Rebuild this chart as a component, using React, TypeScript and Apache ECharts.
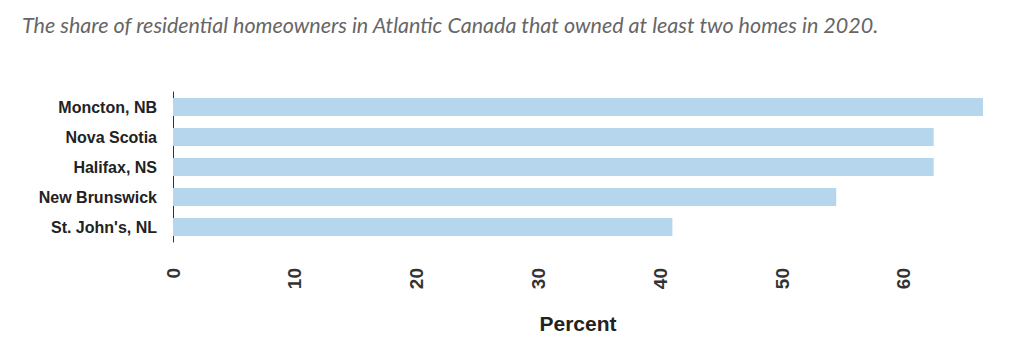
import React, { useEffect, useRef } from "react";
import * as echarts from "echarts";

const titleText =
  "The share of residential homeowners in Atlantic Canada that owned at least two homes in 2020.";
const categories = ["Moncton, NB", "Nova Scotia", "Halifax, NS", "New Brunswick", "St. John's, NL"];
const values = [66.5, 62.45, 62.45, 54.45, 41.0];
const axisName = "Percent";

export default function App() {
  const ref = useRef<HTMLDivElement>(null);
  useEffect(() => {
    if (!ref.current) return;
    const chart = echarts.init(ref.current, null, { renderer: "svg" });
    chart.setOption({
      animation: false,
      backgroundColor: "#ffffff",
      title: {
        text: titleText,
        left: 17,
        top: 9,
        textStyle: {
          fontFamily: "Lato",
          fontStyle: "italic",
          fontWeight: "normal",
          fontSize: 21.5,
          color: "#666666",
        },
      },
      grid: { left: 173, right: 41, top: 92, height: 150 },
      xAxis: {
        type: "value",
        min: 0,
        max: "dataMax",
        interval: 10,
        axisLine: { show: false },
        axisTick: { show: false },
        splitLine: { show: false },
        axisLabel: {
          rotate: 90,
          margin: 26,
          fontFamily: "Liberation Sans, Arial, sans-serif",
          fontWeight: "bold",
          fontSize: 19,
          color: "#333333",
          showMaxLabel: false,
        },
        name: axisName,
        nameLocation: "middle",
        nameGap: 71,
        nameTextStyle: {
          fontFamily: "Liberation Sans, Arial, sans-serif",
          fontWeight: "bold",
          fontSize: 21,
          color: "#222222",
        },
      },
      yAxis: {
        type: "category",
        data: categories,
        inverse: true,
        axisLine: { show: true, lineStyle: { color: "#333333", width: 1 } },
        axisTick: { show: false },
        splitLine: { show: false },
        axisLabel: {
          margin: 16,
          fontFamily: "Liberation Sans, Arial, sans-serif",
          fontWeight: "bold",
          fontSize: 16,
          color: "#222222",
        },
      },
      series: [
        {
          type: "bar",
          data: values,
          barWidth: 18,
          itemStyle: { color: "#b6d6ee" },
        },
      ],
    });
    return () => chart.dispose();
  }, []);
  return (
    <div
      ref={ref}
      style={{ position: "fixed", left: 0, top: 0, width: 1024, height: 357 }}
    />
  );
}
